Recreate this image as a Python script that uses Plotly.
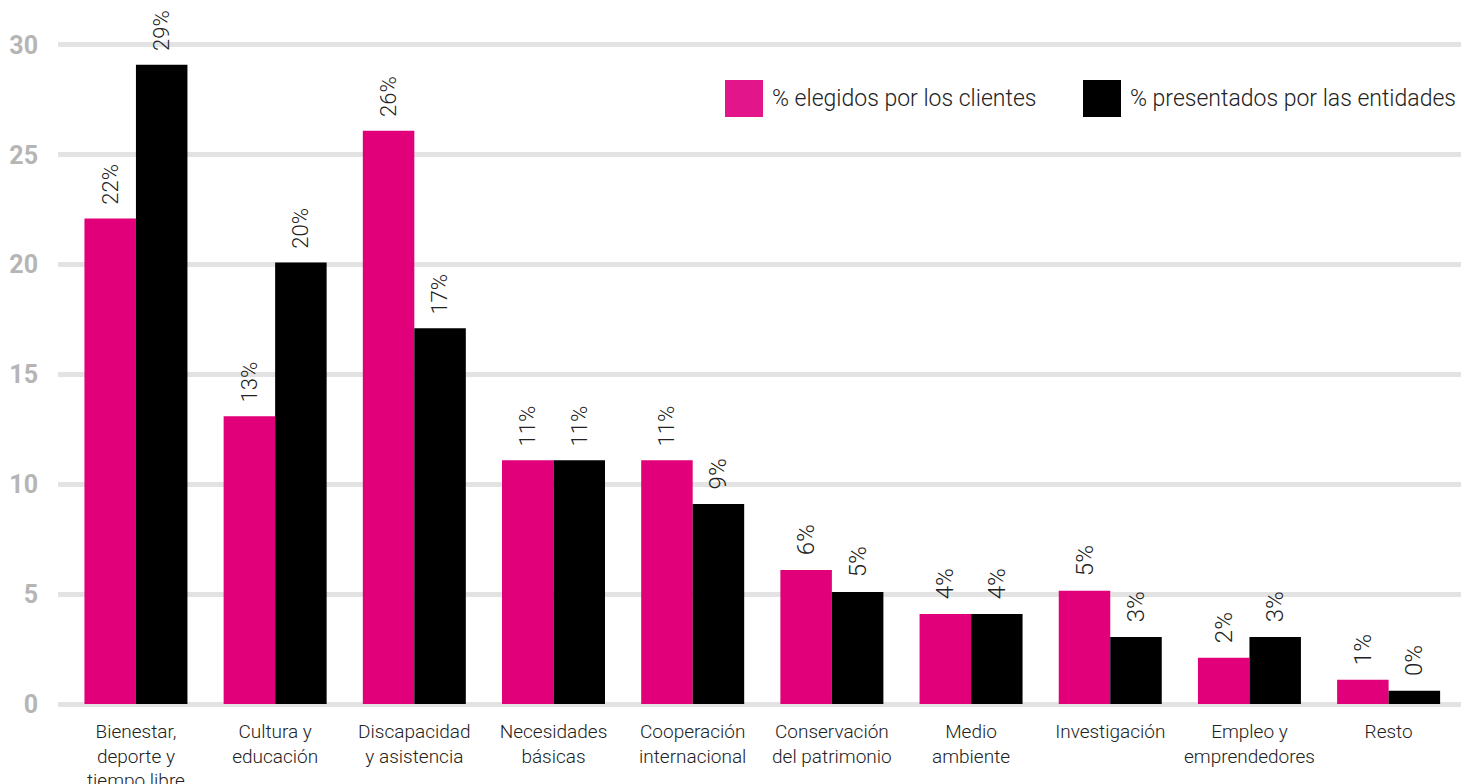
import plotly.graph_objects as go

categories = ["Bienestar,<br>deporte y<br>tiempo libre", "Cultura y<br>educación",
              "Discapacidad<br>y asistencia", "Necesidades<br>básicas",
              "Cooperación<br>internacional", "Conservación<br>del patrimonio",
              "Medio<br>ambiente", "Investigación", "Empleo y<br>emprendedores", "Resto"]
clientes = [22.1, 13.1, 26.1, 11.1, 11.1, 6.1, 4.1, 5.15, 2.1, 1.1]
entidades = [29.1, 20.1, 17.1, 11.1, 9.1, 5.1, 4.1, 3.05, 3.05, 0.6]
clientes_labels = ["22%", "13%", "26%", "11%", "11%", "6%", "4%", "5%", "2%", "1%"]
entidades_labels = ["29%", "20%", "17%", "11%", "9%", "5%", "4%", "3%", "3%", "0%"]
series_names = ["% elegidos por los clientes", "% presentados por las entidades"]
y_ticks = [0, 5, 10, 15, 20, 25, 30]

PINK = "#E2007A"
BLACK = "#000000"
FONT = "Roboto"
W, H = 1461, 784
ML, MR, MT, MB = 58, 0, 23, 80

fig = go.Figure()
for vals, labels, color, name in [(clientes, clientes_labels, PINK, series_names[0]),
                                  (entidades, entidades_labels, BLACK, series_names[1])]:
    fig.add_trace(go.Bar(
        x=list(range(len(categories))), y=vals, name=name, marker_color=color,
        marker_line_width=0,
        text=labels, texttemplate="\u00a0\u00a0%{text}",
        textposition="outside", textangle=-90,
        textfont=dict(family=FONT, size=24, color="#222222", weight=300),
        cliponaxis=False, showlegend=False,
    ))

fig.update_layout(
    width=W, height=H,
    margin=dict(l=ML, r=MR, t=MT, b=MB, autoexpand=False),
    paper_bgcolor="white", plot_bgcolor="white",
    barmode="group", bargap=0.26, bargroupgap=0,
    xaxis=dict(
        tickmode="array", tickvals=list(range(len(categories))), ticktext=categories,
        range=[-0.56, 9.52], showgrid=False, zeroline=False, showline=False,
        ticks="outside", ticklen=10, tickcolor="rgba(0,0,0,0)", automargin=False,
        tickfont=dict(family=FONT, size=19, color="#222222", weight=300),
    ),
    yaxis=dict(
        range=[0, 31], tickvals=y_ticks, showgrid=True, gridcolor="#e3e3e3", gridwidth=5,
        zeroline=True, zerolinecolor="#e3e3e3", zerolinewidth=5, showline=False,
        ticks="outside", ticklen=14, tickcolor="rgba(0,0,0,0)", automargin=False,
        tickfont=dict(family=FONT, size=25, color="#b5b5b5", weight="bold"),
    ),
)

def px_x(p):
    return (p - ML) / (W - ML - MR)

def px_y(p):
    return (H - MB - p) / (H - MB - MT)

legend_items = [(725, "#E2168A", series_names[0]), (1083, BLACK, series_names[1])]
for x0, color, name in legend_items:
    fig.add_shape(type="rect", xref="paper", yref="paper",
                  x0=px_x(x0), x1=px_x(x0 + 38), y0=px_y(117), y1=px_y(80),
                  fillcolor=color, line_width=0)
    fig.add_annotation(xref="paper", yref="paper", x=px_x(x0 + 45), y=px_y(99),
                       xanchor="left", yanchor="middle", showarrow=False, text=name,
                       font=dict(family=FONT, size=23, color="#222222", weight=300))

fig.write_html("out.html", config={"displayModeBar": False},
               post_script="document.body.style.margin='0';document.body.style.overflow='hidden';")
